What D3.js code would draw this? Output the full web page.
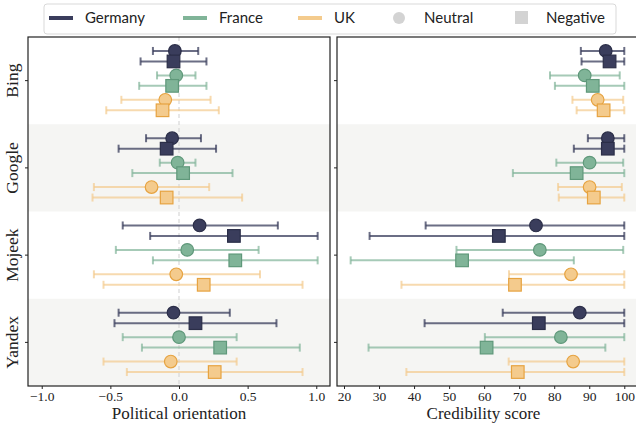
<!DOCTYPE html>
<html>
<head>
<meta charset="utf-8">
<script src="https://cdn.jsdelivr.net/npm/d3@7"></script>
<style>
  body { margin: 0; background: #fff; }
  text { font-family: "Liberation Serif", serif; fill: #222; }
  .legend text { font-family: "Lato", "Open Sans", sans-serif; }
</style>
</head>
<body>
<div id="chart"></div>
<script>
// groups and series
const engines = ["Bing", "Google", "Mojeek", "Yandex"];
const countries = ["Germany", "France", "UK"];
const sentiments = ["Neutral", "Negative"];

// rows: for each engine -> Germany(neu,neg), France(neu,neg), UK(neu,neg)
const polMean = [
  -0.03, -0.04, -0.02, -0.05, -0.10, -0.12,
  -0.05, -0.09, -0.01,  0.03, -0.20, -0.09,
   0.15,  0.40,  0.06,  0.41, -0.02,  0.18,
  -0.04,  0.12,  0.00,  0.30, -0.06,  0.26
];
const polLow = [
  -0.19, -0.28, -0.16, -0.29, -0.42, -0.53,
  -0.24, -0.44, -0.14, -0.34, -0.62, -0.63,
  -0.41, -0.21, -0.46, -0.19, -0.62, -0.55,
  -0.44, -0.47, -0.41, -0.27, -0.55, -0.38
];
const polHigh = [
   0.14,  0.20,  0.12,  0.20,  0.23,  0.29,
   0.16,  0.27,  0.12,  0.39,  0.22,  0.46,
   0.72,  1.01,  0.58,  1.01,  0.59,  0.90,
   0.37,  0.71,  0.42,  0.88,  0.42,  0.90
];

const credMean = [
  94.7, 95.8, 88.7, 91.0, 92.4, 94.1,
  95.3, 95.3, 90.1, 86.4, 90.1, 91.3,
  74.8, 64.2, 75.9, 53.7, 84.8, 68.8,
  87.3, 75.6, 81.9, 60.7, 85.4, 69.6
];
const credLow = [
  87.6, 87.8, 78.8, 80.2, 85.2, 86.4,
  89.6, 85.6, 80.6, 68.2, 81.1, 81.3,
  43.3, 27.3, 52.1, 21.9, 67.1, 36.4,
  65.3, 43.0, 60.2, 27.0, 67.0, 37.8
];
const credHigh = [
  100, 100, 98.7, 100, 99.7, 100,
  100, 100, 99.7, 100, 99.3, 100,
  100, 100, 99.7, 85.6, 100, 100,
  100, 100, 100, 94.6, 100, 100
];

const polTicks = [-1.0, -0.5, 0.0, 0.5, 1.0];
const credTicks = [20, 30, 40, 50, 60, 70, 80, 90, 100];

const colors = {Germany: "#3a3d5c", France: "#80b498", UK: "#f4cb8d"};
const edges = {Germany: "#2b2e48", France: "#5f987a", UK: "#e6a341"};

function rows(mean, low, high) {
  const out = [];
  let i = 0;
  engines.forEach(e => countries.forEach(c => sentiments.forEach(s => {
    out.push({engine: e, country: c, sentiment: s, mean: mean[i], low: low[i], high: high[i]});
    i++;
  })));
  return out;
}

const W = 636, H = 423;
const plotTop = 37, plotBottom = 386;

const svg = d3.select("#chart").append("svg")
  .attr("width", W).attr("height", H);

const y = d3.scaleBand().domain(engines).range([plotTop, plotBottom]);
const yCountry = d3.scalePoint().domain(countries).range([-0.28, 0.28]);
const ySent = d3.scalePoint().domain(sentiments).range([-0.06, 0.06]);
const rowY = d => y(d.engine) + y.bandwidth() * (0.5 + yCountry(d.country) + ySent(d.sentiment));

function panel(x, data, ticks, fmt, title, showY, zeroLine) {
  const [x0, x1] = x.range();
  const g = svg.append("g");
  const defs = svg.append("defs");
  const id = "clip" + Math.round(x0);
  defs.append("clipPath").attr("id", id)
    .append("rect").attr("x", x0).attr("y", plotTop).attr("width", x1 - x0).attr("height", plotBottom - plotTop);

  const plot = g.append("g").attr("clip-path", `url(#${id})`);

  // striped background
  plot.selectAll("rect.band")
    .data(engines.filter((e, i) => i % 2 == 1))
    .enter().append("rect")
    .attr("x", x0).attr("width", x1 - x0)
    .attr("y", d => y(d)).attr("height", y.bandwidth())
    .attr("fill", "#f5f5f3");

  if (zeroLine) {
    plot.append("line")
      .attr("x1", x(0)).attr("x2", x(0))
      .attr("y1", plotTop).attr("y2", plotBottom)
      .attr("stroke", "#d8d8d8").attr("stroke-width", 1.2)
      .attr("stroke-dasharray", "4,3");
  }

  // error bars
  const eb = plot.selectAll("g.err").data(data).enter().append("g")
    .attr("stroke", d => colors[d.country])
    .attr("stroke-opacity", d => d.country == "Germany" ? 0.75 : 0.7)
    .attr("stroke-width", 2);
  eb.append("line")
    .attr("x1", d => x(d.low)).attr("x2", d => x(d.high))
    .attr("y1", rowY).attr("y2", rowY);
  eb.append("line")
    .attr("x1", d => x(d.low)).attr("x2", d => x(d.low))
    .attr("y1", d => rowY(d) - 4).attr("y2", d => rowY(d) + 4);
  eb.append("line")
    .attr("x1", d => x(d.high)).attr("x2", d => x(d.high))
    .attr("y1", d => rowY(d) - 4).attr("y2", d => rowY(d) + 4);

  // markers
  plot.selectAll("circle.pt").data(data.filter(d => d.sentiment == "Neutral"))
    .enter().append("circle")
    .attr("cx", d => x(d.mean)).attr("cy", rowY).attr("r", 6.3)
    .attr("fill", d => colors[d.country])
    .attr("stroke", d => edges[d.country]).attr("stroke-width", 1.2);
  plot.selectAll("rect.pt").data(data.filter(d => d.sentiment == "Negative"))
    .enter().append("rect")
    .attr("x", d => x(d.mean) - 6.3).attr("y", d => rowY(d) - 6.3)
    .attr("width", 12.6).attr("height", 12.6)
    .attr("fill", d => colors[d.country])
    .attr("stroke", d => edges[d.country]).attr("stroke-width", 1.2);

  // frame
  g.append("rect")
    .attr("x", x0).attr("y", plotTop).attr("width", x1 - x0).attr("height", plotBottom - plotTop)
    .attr("fill", "none").attr("stroke", "#222").attr("stroke-width", 1.2);

  const xAxis = g.append("g").attr("transform", `translate(0,${plotBottom})`)
    .call(d3.axisBottom(x).tickValues(ticks).tickFormat(fmt).tickSize(3).tickPadding(2));
  xAxis.select(".domain").remove();
  xAxis.selectAll("text").style("font-size", "13.5px").style("font-family", "Liberation Serif");
  xAxis.selectAll("line").attr("stroke", "#222");

  const yAxis = g.append("g").attr("transform", `translate(${x0},0)`)
    .call(d3.axisLeft(y).tickSize(3).tickFormat(""));
  yAxis.select(".domain").remove();
  yAxis.selectAll("line").attr("stroke", "#222");

  if (showY) {
    g.selectAll("text.ylab").data(engines).enter().append("text")
      .attr("transform", d => `translate(${x0 - 10},${y(d) + y.bandwidth() / 2}) rotate(-90)`)
      .attr("text-anchor", "middle")
      .style("font-size", "17.5px")
      .text(d => d);
  }

  g.append("text")
    .attr("x", (x0 + Math.min(x1, W)) / 2 + (showY ? 0 : -3))
    .attr("y", 419)
    .attr("text-anchor", "middle")
    .style("font-size", "17px")
    .text(title);
}

const xPol = d3.scaleLinear().domain([-1.1, 1.1]).range([28, 330]);
const xCred = d3.scaleLinear().domain([18, 104.2]).range([337, 639]);

const fmtPol = d => d < 0 ? "\u2212" + d3.format(".1f")(-d) : d3.format(".1f")(d);

panel(xPol, rows(polMean, polLow, polHigh), polTicks, fmtPol, "Political orientation", true, true);
panel(xCred, rows(credMean, credLow, credHigh), credTicks, d3.format("d"), "Credibility score", false, false);

// legend
const leg = svg.append("g").attr("class", "legend");
leg.append("rect")
  .attr("x", 44).attr("y", 4).attr("width", 572).attr("height", 30).attr("rx", 3)
  .attr("fill", "#fff").attr("stroke", "#d9d9d9");

const legX = {Germany: 49, France: 183, UK: 298};
countries.forEach(c => {
  leg.append("line")
    .attr("x1", legX[c]).attr("x2", legX[c] + 24)
    .attr("y1", 18).attr("y2", 18)
    .attr("stroke", colors[c]).attr("stroke-width", 4);
  leg.append("text")
    .attr("x", legX[c] + 36).attr("y", 18).attr("dy", "0.35em")
    .style("font-size", "15px")
    .text(c);
});
leg.append("circle").attr("cx", 399).attr("cy", 18).attr("r", 6).attr("fill", "#d3d3d3");
leg.append("text").attr("x", 424).attr("y", 18).attr("dy", "0.35em")
  .style("font-size", "15px").text("Neutral");
leg.append("rect").attr("x", 515).attr("y", 11).attr("width", 13).attr("height", 13).attr("fill", "#d3d3d3");
leg.append("text").attr("x", 546).attr("y", 18).attr("dy", "0.35em")
  .style("font-size", "15px").text("Negative");
</script>
</body>
</html>
